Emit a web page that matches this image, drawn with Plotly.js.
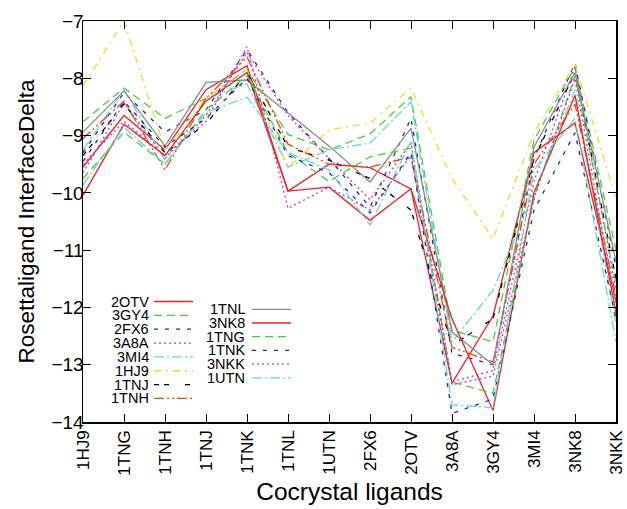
<!DOCTYPE html>
<html><head><meta charset="utf-8">
<script src="https://cdn.plot.ly/plotly-3.0.1.min.js"></script>
<style>html,body{margin:0;padding:0;background:#fff}#chart{width:627px;height:509px}</style>
</head><body><div id="chart"></div>
<script>
// Cocrystal ligand categories (x axis)
const ligands = ["1HJ9","1TNG","1TNH","1TNJ","1TNK","1TNL","1UTN","2FX6","2OTV","3A8A","3GY4","3MI4","3NK8","3NKK"];
const yTicks = [-14,-13,-12,-11,-10,-9,-8,-7];

// Rosettaligand InterfaceDelta per series
const v2OTV = [-9.55,-8.65,-9.25,-8.20,-7.78,-9.97,-9.50,-9.56,-9.93,-13.32,-12.15,-9.30,-8.78,-11.90];
const v3GY4 = [-8.76,-8.17,-8.70,-8.35,-7.85,-8.98,-9.25,-8.97,-8.32,-12.40,-12.60,-9.08,-7.80,-11.00];
const v2FX6 = [-9.30,-8.25,-8.94,-8.55,-7.50,-8.60,-9.40,-10.25,-8.70,-12.80,-13.00,-9.40,-7.73,-11.30];
const v3A8A = [-9.65,-8.43,-9.40,-8.65,-7.55,-8.65,-9.40,-10.12,-9.13,-13.30,-13.10,-9.80,-7.80,-11.70];
const v3MI4 = [-9.25,-8.20,-9.43,-8.35,-8.10,-9.55,-9.25,-9.13,-8.41,-12.60,-11.70,-10.00,-8.20,-12.30];
const v1HJ9 = [-8.13,-7.00,-9.25,-8.35,-7.85,-9.55,-8.90,-8.78,-8.17,-9.75,-10.80,-8.95,-7.75,-10.10];
const v1TNJ = [-9.35,-8.45,-9.30,-8.80,-7.90,-9.20,-9.43,-9.75,-10.30,-12.66,-12.20,-9.40,-7.90,-11.50];
const v1TNH = [-9.05,-8.40,-9.60,-8.35,-7.63,-9.15,-9.50,-9.55,-9.37,-12.70,-12.95,-9.50,-8.45,-11.80];
const v1TNL = [-8.94,-8.22,-9.18,-8.07,-8.03,-8.60,-9.18,-9.81,-8.87,-12.43,-13.00,-9.20,-7.90,-11.20];
const v3NK8 = [-10.04,-8.80,-9.35,-8.40,-7.90,-9.97,-9.90,-10.48,-9.93,-12.20,-13.80,-10.00,-8.30,-12.10];
const v1TNG = [-9.75,-8.94,-9.50,-8.55,-7.95,-9.30,-9.80,-9.37,-9.22,-13.30,-13.50,-10.10,-7.95,-11.60];
const v1TNK = [-9.45,-8.40,-9.20,-8.70,-8.00,-9.35,-9.65,-10.35,-9.30,-13.85,-13.60,-10.30,-8.95,-12.20];
const v3NKK = [-9.50,-8.75,-9.35,-8.75,-7.45,-10.27,-9.90,-10.30,-9.35,-13.35,-13.20,-10.10,-8.00,-12.00];
const v1UTN = [-9.86,-8.85,-9.50,-8.60,-8.33,-9.30,-9.60,-10.56,-9.10,-13.70,-13.75,-9.60,-8.70,-12.60];

const RED="#ee2222", GREEN="#4ccc3c", BLUE="#1a2fa8", MAG="#cc33cc", CYAN="#60dad2",
      YEL="#e6e020", BLK="#000000", ORG="#ff4400", GRAY="#8c8c8c";
const D_SOLID="solid", D_GREEN="8px,5px", D_BLUE="4px,7px", D_DOT="2px,3px",
      D_CYAN="10px,3px,2px,3px", D_YEL="7px,5px,2px,5px", D_BLK="5px,5px,5px,16px",
      D_ORG="10px,3px,2px,3px,2px,3px";

const series = [
  {name:"2OTV", y:v2OTV, c:RED,  d:D_SOLID, col:0, row:0},
  {name:"3GY4", y:v3GY4, c:GREEN,d:D_GREEN, col:0, row:1},
  {name:"2FX6", y:v2FX6, c:BLUE, d:D_BLUE,  col:0, row:2},
  {name:"3A8A", y:v3A8A, c:MAG,  d:D_DOT,   col:0, row:3},
  {name:"3MI4", y:v3MI4, c:CYAN, d:D_CYAN,  col:0, row:4},
  {name:"1HJ9", y:v1HJ9, c:YEL,  d:D_YEL,   col:0, row:5},
  {name:"1TNJ", y:v1TNJ, c:BLK,  d:D_BLK,   col:0, row:6},
  {name:"1TNH", y:v1TNH, c:ORG,  d:D_ORG,   col:0, row:7},
  {name:"1TNL", y:v1TNL, c:GRAY, d:D_SOLID, col:1, row:0},
  {name:"3NK8", y:v3NK8, c:RED,  d:D_SOLID, col:1, row:1},
  {name:"1TNG", y:v1TNG, c:GREEN,d:D_GREEN, col:1, row:2},
  {name:"1TNK", y:v1TNK, c:BLUE, d:D_BLUE,  col:1, row:3},
  {name:"3NKK", y:v3NKK, c:MAG,  d:D_DOT,   col:1, row:4},
  {name:"1UTN", y:v1UTN, c:CYAN, d:D_CYAN,  col:1, row:5}
];

const traces = series.map(s => ({
  type:"scatter", mode:"lines", name:s.name, x:ligands, y:s.y,
  line:{color:s.c, width:1.3, dash:s.d}, showlegend:false, hoverinfo:"skip"
}));

// plot area in px
const L=83, R=616, T=21, B=422;
const W=627, H=509;
const px = x => (x-L)/(R-L);
const py = y => (B-y)/(B-T);

// gnuplot-style key (label left, sample right)
const keyCols = [
  {textRight:150, lineX0:154, lineX1:193, y0:301.5, dy:13.85},
  {textRight:246, lineX0:252, lineX1:291, y0:309.3, dy:13.7}
];
const shapes = [], annotations = [];
series.forEach(s => {
  const k = keyCols[s.col];
  const yy = k.y0 + s.row*k.dy;
  shapes.push({type:"line", xref:"paper", yref:"paper",
    x0:px(k.lineX0), x1:px(k.lineX1), y0:py(yy), y1:py(yy),
    line:{color:s.c, width:1.3, dash:s.d}});
  annotations.push({xref:"paper", yref:"paper", x:px(k.textRight), y:py(yy),
    xanchor:"right", yanchor:"middle", showarrow:false, text:s.name, borderpad:0,
    font:{family:"Liberation Sans, Arial, sans-serif", size:14.5, color:"#000"}});
});

const layout = {
  width:W, height:H,
  margin:{l:L, r:W-R, t:T, b:H-B, pad:0},
  paper_bgcolor:"#fff", plot_bgcolor:"#fff",
  font:{family:"Liberation Sans, Arial, sans-serif", color:"#000"},
  xaxis:{type:"category", range:[0, ligands.length-1], tickangle:-90,
    ticks:"inside", ticklen:8, tickwidth:1, tickcolor:"#000",
    showline:true, linecolor:"#000", linewidth:1.5, mirror:"ticks",
    showgrid:false, zeroline:false, tickfont:{size:17},
    title:{text:"Cocrystal ligands", font:{size:24.5}, standoff:8}},
  yaxis:{range:[-14,-7], tickvals:yTicks, ticks:"inside", ticklen:8, tickwidth:1, tickcolor:"#000",
    showline:true, linecolor:"#000", linewidth:1.5, mirror:"ticks",
    showgrid:false, zeroline:false, tickfont:{size:19}, ticklabelstandoff:-6,
    title:{text:"Rosettaligand InterfaceDelta", font:{size:22.5}, standoff:10}},
  shapes:shapes, annotations:annotations, showlegend:false
};
Plotly.newPlot("chart", traces, layout, {staticPlot:true, displayModeBar:false});
</script></body></html>
